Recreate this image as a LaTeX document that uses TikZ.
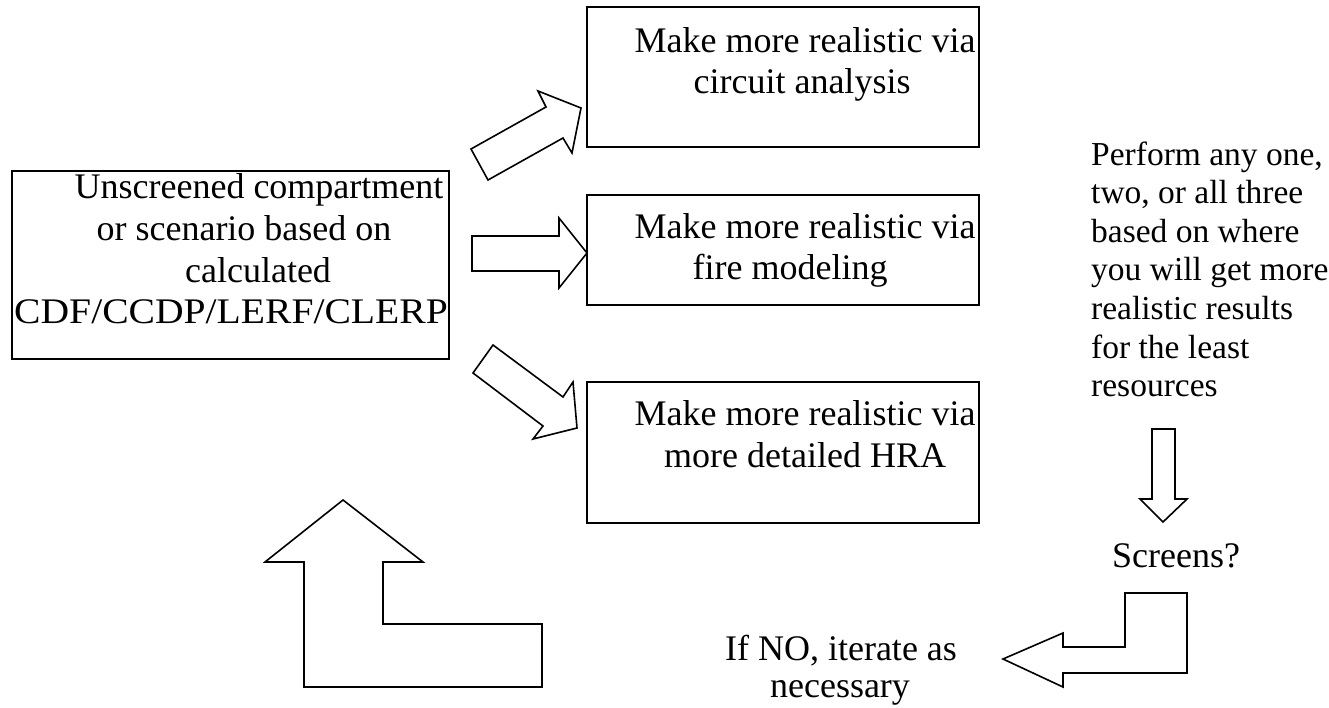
\documentclass[tikz,border=0pt]{standalone}
\usepackage{graphicx}
\usepackage{fontspec}
\setmainfont{Liberation Serif}
\begin{document}
\begin{tikzpicture}[x=1pt,y=-1pt,
  box/.style={draw=black,line width=1.6pt,fill=white,inner sep=0pt},
  blockarrow/.style={draw=black,line width=1.6pt,fill=white,line join=miter},
  txt/.style={inner sep=0pt,anchor=base,font=\fontsize{36}{41}\selectfont},
  ltxt/.style={inner sep=0pt,anchor=base west,font=\fontsize{33.5}{38}\selectfont}]
\useasboundingbox (0,0) rectangle (1329,707);
% boxes
\node[box,minimum width=437pt,minimum height=188pt] (src) at (230.5,265) {};
\node[box,minimum width=392pt,minimum height=140pt] (b1) at (783,77) {};
\node[box,minimum width=392pt,minimum height=110pt] (b2) at (783,250) {};
\node[box,minimum width=392pt,minimum height=141pt] (b3) at (783,452.5) {};
% texts
\node[txt] (s1) at (259,198) {Unscreened compartment};
\node[txt] (s2) at (244,240) {or scenario based on};
\node[txt] (s3) at (258,282) {calculated};
\node[txt] (s4) at (231,323) {\scalebox{1.1}[1]{CDF/CCDP/LERF/CLERP}};
\node[txt] (t1a) at (805,52) {Make more realistic via};
\node[txt] (t1b) at (802,93) {circuit analysis};
\node[txt] (t2a) at (805,238) {Make more realistic via};
\node[txt] (t2b) at (790,279) {fire modeling};
\node[txt] (t3a) at (805,425) {Make more realistic via};
\node[txt] (t3b) at (805,467) {more detailed HRA};
\node[ltxt] (p1) at (1091,165) {Perform any one,};
\node[ltxt] (p2) at (1091,203.6) {two, or all three};
\node[ltxt] (p3) at (1091,242.2) {based on where};
\node[ltxt] (p4) at (1091,280.8) {you will get more};
\node[ltxt] (p5) at (1091,319.4) {realistic results};
\node[ltxt] (p6) at (1091,358) {for the least};
\node[ltxt] (p7) at (1091,396.6) {resources};
\node[txt] (scr) at (1176,567) {Screens?};
\node[txt] (it1) at (841,660) {If NO, iterate as};
\node[txt] (it2) at (840,697) {necessary};
% block arrows
\draw[blockarrow] (471,149) -- (546,107) -- (538,91) -- (581,108) -- (572,153) -- (563,138) -- (488,180) -- cycle;
\draw[blockarrow] (472,236) -- (559,236) -- (559,218) -- (587,253) -- (559,288) -- (559,271) -- (472,271) -- cycle;
\draw[blockarrow] (493,345) -- (563,397) -- (573,382) -- (577,428) -- (533,439) -- (543,426) -- (473,373) -- cycle;
\draw[blockarrow] (343,500) -- (423,562) -- (383,562) -- (383,624) -- (542,624) -- (542,687) -- (304,687) -- (304,562) -- (265,562) -- cycle;
\draw[blockarrow] (1152,429) -- (1175,429) -- (1175,499) -- (1187,499) -- (1163,522) -- (1140,499) -- (1152,499) -- cycle;
\draw[blockarrow] (1125,593) -- (1187,593) -- (1187,673) -- (1063,673) -- (1063,687) -- (1003,659) -- (1063,633) -- (1063,647) -- (1125,647) -- cycle;
\end{tikzpicture}
\end{document}
